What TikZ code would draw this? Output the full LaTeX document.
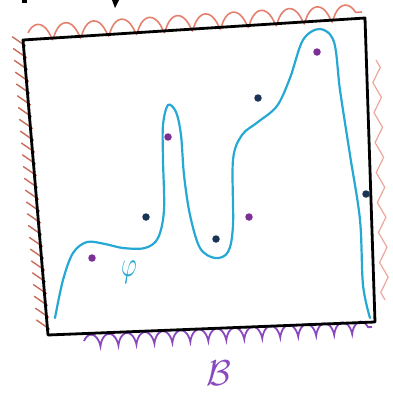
\documentclass[tikz,border=0pt]{standalone}
\usepackage{amsmath,amssymb}
\usetikzlibrary{decorations.pathmorphing,calc}
\definecolor{hatchred}{RGB}{228,128,110}
\definecolor{hatchbrown}{RGB}{200,108,90}
\definecolor{bpurple}{RGB}{138,72,190}
\definecolor{phicyan}{RGB}{38,168,212}
\definecolor{dotnavy}{RGB}{26,52,86}
\definecolor{dotpurple}{RGB}{124,48,150}

\tikzset{
  pt/.style={circle,inner sep=0pt,minimum size=7.5pt,fill=#1},
  coilhatch/.style={decorate,decoration={coil,amplitude=#1,segment length=18pt,aspect=0.45}},
}

\begin{document}
\begin{tikzpicture}[x=1pt,y=-1pt]
  \useasboundingbox (0,0) rectangle (393,397);
  % corners of the box
  \coordinate (TL) at (23,40);
  \coordinate (TR) at (365,18);
  \coordinate (BR) at (375,322);
  \coordinate (BL) at (48,335);

  % boundary hatching
  \draw[hatchred,line width=1.6pt,decorate,
    decoration={coil,amplitude=8pt,segment length=28pt,aspect=0.4}]
    (28,33) -- (362,12);
  \foreach \t in {0.02,0.06,...,0.98}
    \draw[hatchbrown,line width=1.4pt,line cap=round]
      ($(TL)!\t!(BL)+(2,0)$) -- ++(-13,-9);
  \draw[hatchred!70,line width=1.2pt,decorate,
    decoration={zigzag,amplitude=4pt,segment length=30pt}]
    (376,60) -- (385,300);
  \draw[bpurple,line width=1.8pt,coilhatch=6pt]
    (84,341) -- (372,327);

  % the box
  \draw[line width=2.8pt,line join=round] (TL) -- (TR) -- (BR) -- (BL) -- cycle;

  % cut-off strokes at the top
  \fill (22,0) rectangle (27,3);
  \fill (112,0) -- (119,0) -- (115,8) -- cycle;

  % the function
  \draw[phicyan,line width=2.2pt,line cap=round] plot[smooth,tension=0.55] coordinates {
    (55,318) (63,280) (73,253) (87,242) (105,244) (123,248) (145,248) (158,238)
    (164,210) (163,160) (163,125) (168,105) (176,112) (181,135) (184,175)
    (190,215) (200,248) (215,258) (228,252) (233,225) (233,160) (242,135)
    (258,122) (277,106) (290,78) (303,40) (320,29) (334,42) (340,90)
    (350,155) (360,220) (363,285) (370,318)};

  % data points
  \node[pt=dotpurple] (p1) at (168,137) {};
  \node[pt=dotpurple] (p2) at (92,258) {};
  \node[pt=dotpurple] (p3) at (317,52) {};
  \node[pt=dotpurple] (p4) at (249,217) {};
  \node[pt=dotnavy] (n1) at (146,217) {};
  \node[pt=dotnavy] (n2) at (258,98) {};
  \node[pt=dotnavy] (n3) at (216,239) {};
  \node[pt=dotnavy] (n4) at (366,194) {};

  % labels
  \node[phicyan] (phi) at (129,272) {\scalebox{2.4}[3.6]{$\varphi$}};
  \node[bpurple] (B) at (219,373) {\scalebox{3.6}{$\mathcal{B}$}};
\end{tikzpicture}
\end{document}
